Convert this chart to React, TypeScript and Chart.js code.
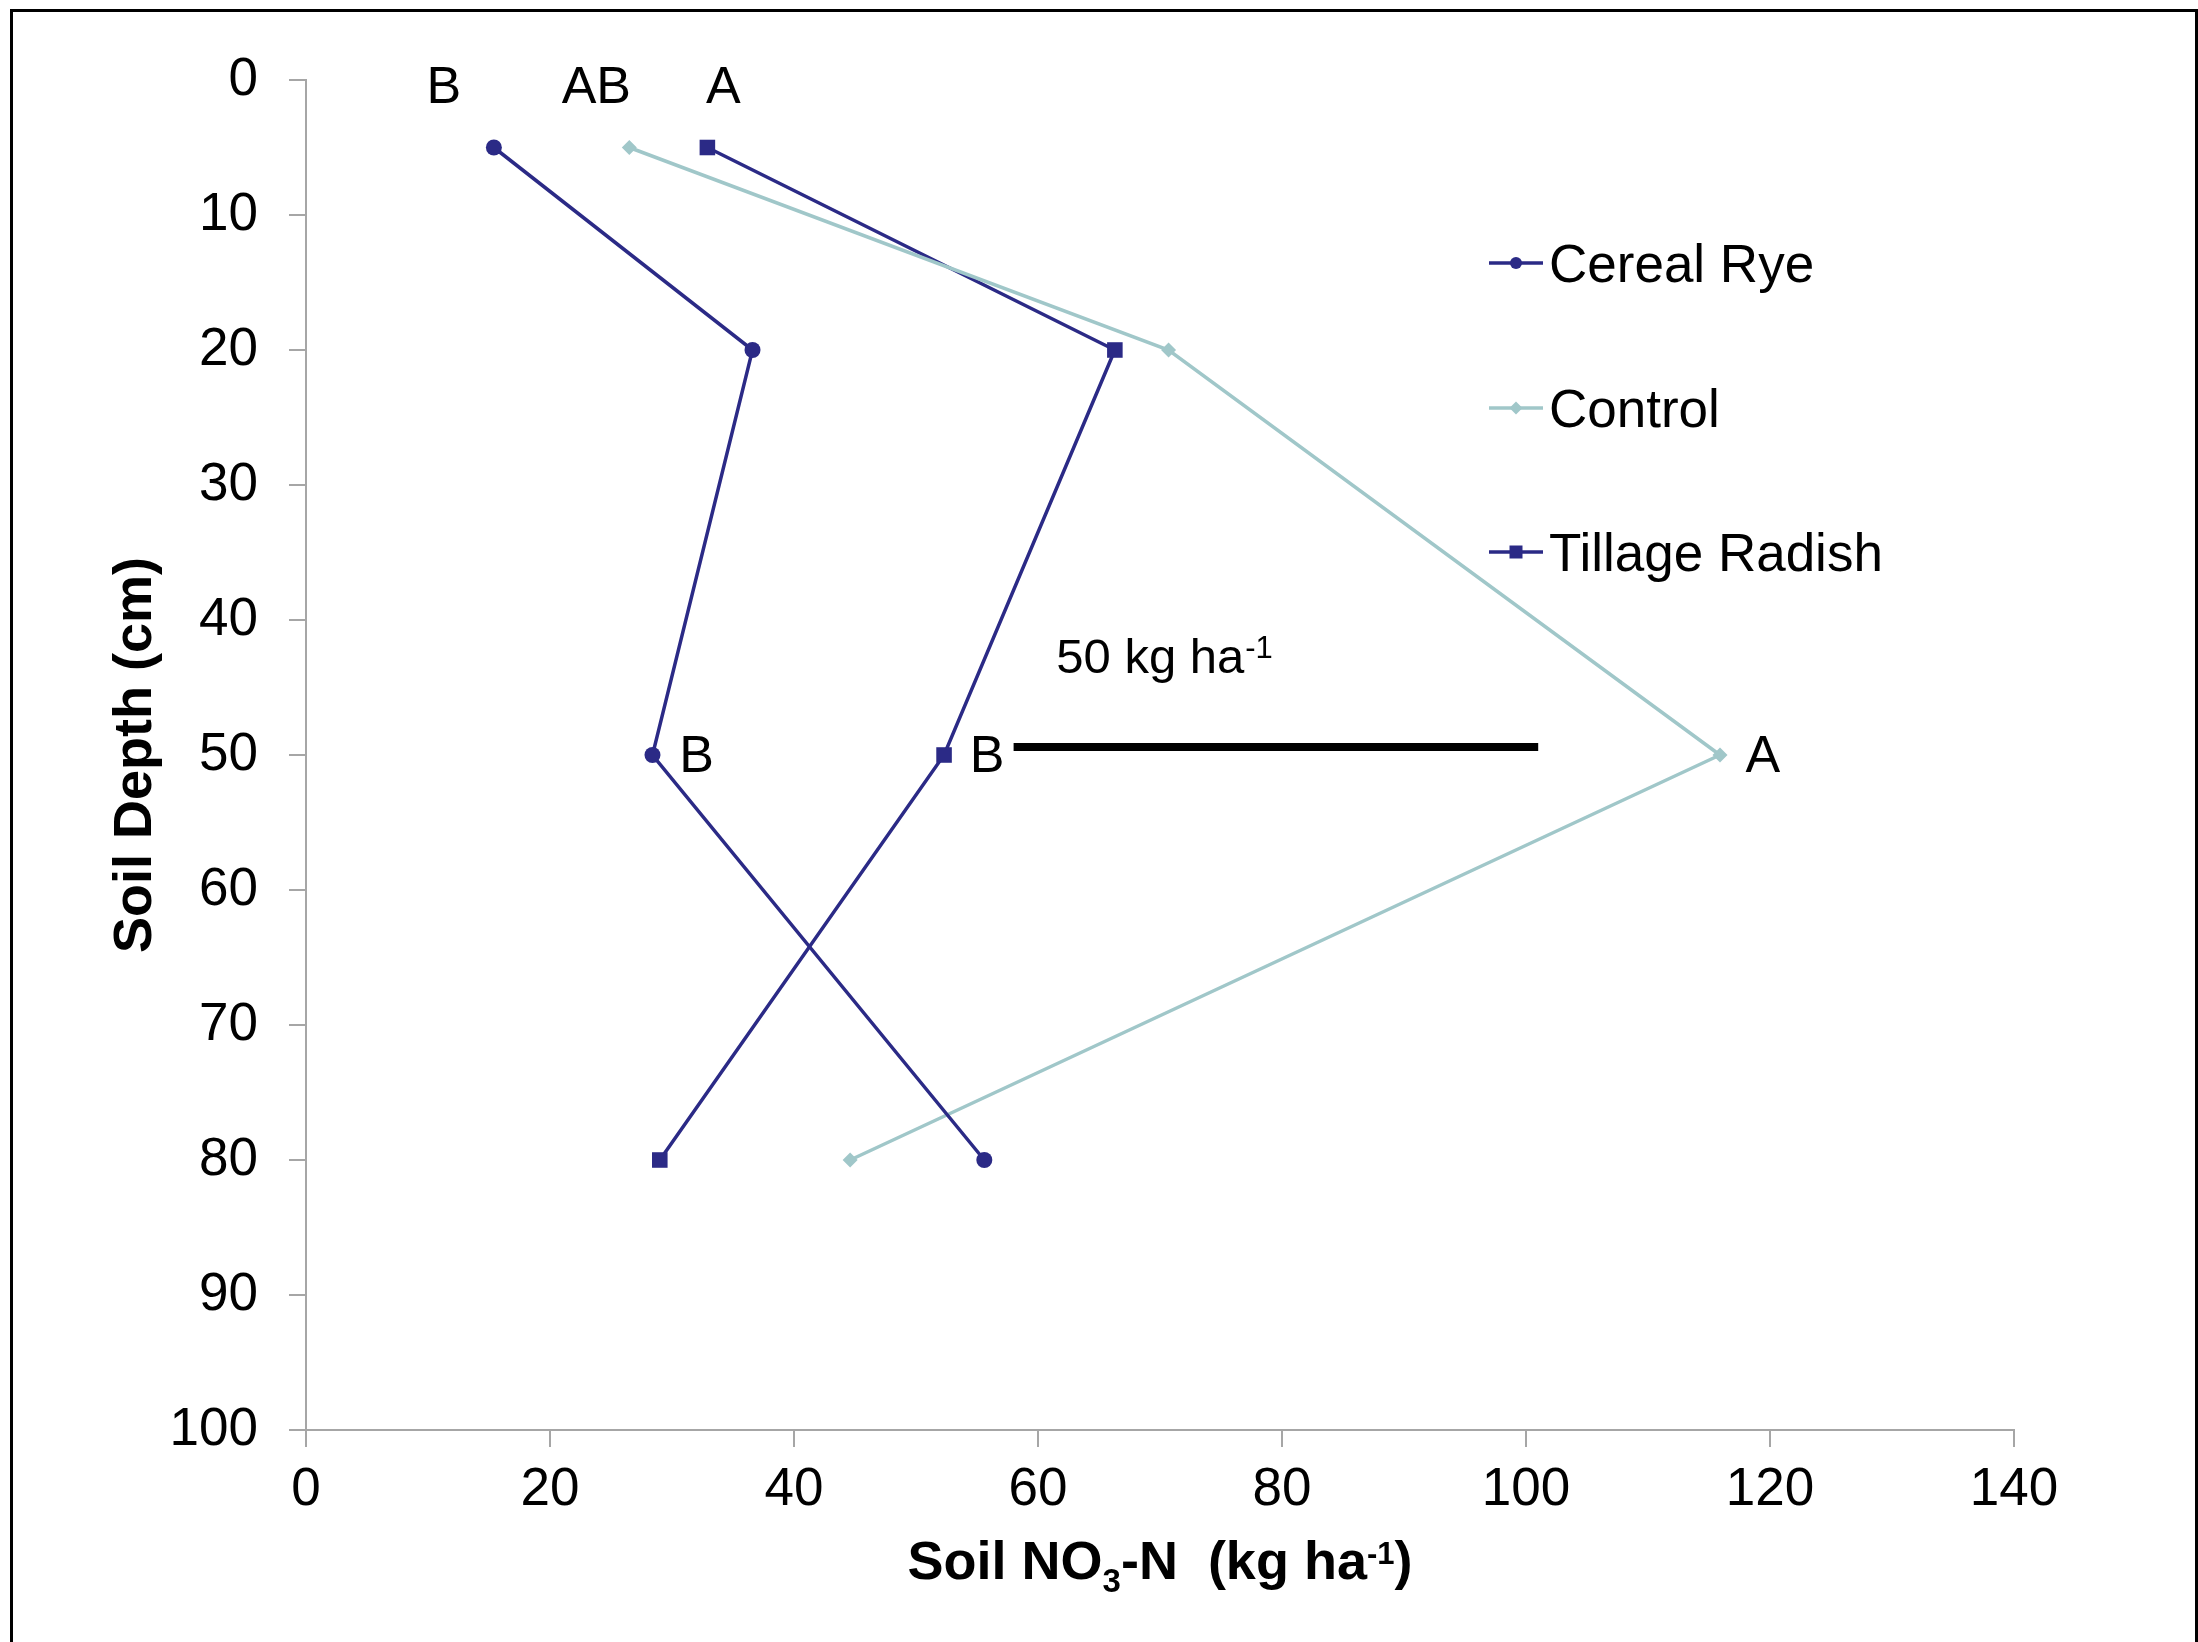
import React, { useEffect, useRef } from 'react';
import { Chart, registerables } from 'chart.js';

Chart.register(...registerables);

// ---------- data ----------
const depths = [5, 20, 50, 80];
const cerealRye = [15.4, 36.6, 28.4, 55.6];
const control = [26.5, 70.7, 115.9, 44.6];
const tillageRadish = [32.9, 66.3, 52.3, 29.0];
const seriesNames = ['Cereal Rye', 'Control', 'Tillage Radish'];

const xMin = 0;
const xMax = 140;
const xStep = 20;
const yMin = 0;
const yMax = 100;
const yStep = 10;

// scale bar (kg ha-1 reference)
const scaleBarX = [58.0, 101.0];
const scaleBarDepth = 49.4;
const scaleBarText = '50 kg ha';
const scaleBarSup = '-1';
const scaleBarTextX = 61.5;
const scaleBarTextY = 42.6;

// significance letters
const topLetters = ['B', 'AB', 'A'];
const topLetterX = [11.3, 23.8, 34.2];
const topLetterY = 0.3;
const midLetters = ['B', 'B', 'A'];
const midLetterX = [30.6, 54.4, 118.0];
const midLetterY = 49.9;

const xTitleParts = ['Soil NO', '3', '-N  (kg ha', '-1', ')'];
const yTitle = 'Soil Depth (cm)';

// ---------- styles ----------
const NAVY = '#2b2a86';
const TEAL = '#a0c7c9';
const AXIS = '#a6a6a6';
const FONT = '"Liberation Sans", Arial, sans-serif';

const toPoints = (xs: number[]) => xs.map((x, i) => ({ x, y: depths[i] }));

const overlayPlugin = {
  id: 'overlay',
  afterDraw(chart: any) {
    const ctx = chart.ctx as CanvasRenderingContext2D;
    const xs = chart.scales.x;
    const ys = chart.scales.y;
    const area = chart.chartArea;
    ctx.save();

    // outer border
    ctx.strokeStyle = '#000';
    ctx.lineWidth = 3;
    ctx.strokeRect(11.5, 10.5, 2185, 1700);

    // letters
    ctx.fillStyle = '#000';
    ctx.font = `52px ${FONT}`;
    ctx.textBaseline = 'alphabetic';
    const capOff = 0.358 * 52;
    ctx.textAlign = 'center';
    topLetters.forEach((t, i) => {
      ctx.fillText(t, xs.getPixelForValue(topLetterX[i]), ys.getPixelForValue(topLetterY) + capOff);
    });
    ctx.textAlign = 'left';
    midLetters.forEach((t, i) => {
      ctx.fillText(t, xs.getPixelForValue(midLetterX[i]), ys.getPixelForValue(midLetterY) + capOff);
    });

    // scale bar label
    ctx.font = `49px ${FONT}`;
    const sx = xs.getPixelForValue(scaleBarTextX);
    const sy = ys.getPixelForValue(scaleBarTextY) + 0.358 * 49;
    ctx.fillText(scaleBarText, sx, sy);
    const w1 = ctx.measureText(scaleBarText).width;
    ctx.font = `31px ${FONT}`;
    ctx.fillText(scaleBarSup, sx + w1 + 1, sy - 15);

    // legend
    const legendStyles = [
      { color: NAVY, shape: 'circle', r: 6 },
      { color: TEAL, shape: 'diamond', r: 6.5 },
      { color: NAVY, shape: 'square', r: 6.5 },
    ];
    const legendY = [area.top + 183, area.top + 328, area.top + 472];
    const lx0 = 1489;
    const lx1 = 1543;
    seriesNames.forEach((name, i) => {
      const st = legendStyles[i];
      const y = legendY[i];
      ctx.strokeStyle = st.color;
      ctx.fillStyle = st.color;
      ctx.lineWidth = 3.5;
      ctx.beginPath();
      ctx.moveTo(lx0, y);
      ctx.lineTo(lx1, y);
      ctx.stroke();
      const cx = (lx0 + lx1) / 2;
      ctx.beginPath();
      if (st.shape === 'circle') ctx.arc(cx, y, st.r, 0, Math.PI * 2);
      else if (st.shape === 'square') ctx.rect(cx - st.r, y - st.r, st.r * 2, st.r * 2);
      else {
        ctx.moveTo(cx - st.r, y);
        ctx.lineTo(cx, y - st.r);
        ctx.lineTo(cx + st.r, y);
        ctx.lineTo(cx, y + st.r);
        ctx.closePath();
      }
      ctx.fill();
      ctx.fillStyle = '#000';
      ctx.font = `53px ${FONT}`;
      ctx.textAlign = 'left';
      ctx.textBaseline = 'alphabetic';
      ctx.fillText(name, 1549, y + 0.358 * 53);
    });

    // x-axis title with sub/superscript
    const parts = [
      { t: xTitleParts[0], s: 54, dy: 0 },
      { t: xTitleParts[1], s: 33, dy: 13 },
      { t: xTitleParts[2], s: 54, dy: 0 },
      { t: xTitleParts[3], s: 31, dy: -15 },
      { t: xTitleParts[4], s: 54, dy: 0 },
    ];
    let total = 0;
    const widths = parts.map((p) => {
      ctx.font = `bold ${p.s}px ${FONT}`;
      const w = ctx.measureText(p.t).width;
      total += w;
      return w;
    });
    let x = (area.left + area.right) / 2 - total / 2;
    const base = area.bottom + 149;
    ctx.fillStyle = '#000';
    ctx.textAlign = 'left';
    parts.forEach((p, i) => {
      ctx.font = `bold ${p.s}px ${FONT}`;
      ctx.fillText(p.t, x, base + p.dy);
      x += widths[i];
    });

    ctx.restore();
  },
};

export default function App() {
  const ref = useRef<HTMLCanvasElement | null>(null);

  useEffect(() => {
    if (!ref.current) return;
    const chart = new Chart(ref.current, {
      type: 'scatter',
      data: {
        datasets: [
          {
            label: seriesNames[0],
            data: toPoints(cerealRye),
            showLine: true,
            borderColor: NAVY,
            backgroundColor: NAVY,
            borderWidth: 3.5,
            pointStyle: 'circle',
            pointRadius: 8,
            pointBorderWidth: 0,
          },
          {
            label: seriesNames[1],
            data: toPoints(control),
            showLine: true,
            borderColor: TEAL,
            backgroundColor: TEAL,
            borderWidth: 3.5,
            pointStyle: 'rectRot',
            pointRadius: 7.5,
            pointBorderWidth: 0,
          },
          {
            label: seriesNames[2],
            data: toPoints(tillageRadish),
            showLine: true,
            borderColor: NAVY,
            backgroundColor: NAVY,
            borderWidth: 3.5,
            pointStyle: 'rect',
            pointRadius: 11,
            pointBorderWidth: 0,
          },
          {
            label: 'scale',
            data: scaleBarX.map((x) => ({ x, y: scaleBarDepth })),
            showLine: true,
            borderColor: '#000',
            borderWidth: 8,
            pointRadius: 0,
            borderCapStyle: 'butt',
          },
        ],
      },
      options: {
        responsive: false,
        animation: false,
        devicePixelRatio: 1,
        layout: { padding: { left: 0, right: 184, top: 80, bottom: 0 } },
        plugins: {
          legend: { display: false },
          tooltip: { enabled: false },
        },
        scales: {
          x: {
            type: 'linear',
            position: 'bottom',
            min: xMin,
            max: xMax,
            afterFit: (s: any) => {
              s.height = 212;
            },
            ticks: {
              stepSize: xStep,
              color: '#000',
              font: { family: FONT, size: 53 },
              padding: 12,
              maxRotation: 0,
            },
            grid: {
              display: true,
              drawOnChartArea: false,
              drawTicks: true,
              tickLength: 17,
              color: AXIS,
              lineWidth: 2,
            },
            border: { display: true, color: AXIS, width: 2 },
          },
          y: {
            type: 'linear',
            reverse: true,
            min: yMin,
            max: yMax,
            afterFit: (s: any) => {
              s.width = 306;
            },
            ticks: {
              stepSize: yStep,
              color: '#000',
              font: { family: FONT, size: 53 },
              padding: 31,
            },
            grid: {
              display: true,
              drawOnChartArea: false,
              drawTicks: true,
              tickLength: 17,
              color: AXIS,
              lineWidth: 2,
            },
            border: { display: true, color: AXIS, width: 2 },
            title: {
              display: true,
              text: yTitle,
              color: '#000',
              font: { family: FONT, size: 54, weight: 'bold' },
              padding: { top: 103.6, bottom: 0 },
            },
          },
        },
      },
      plugins: [overlayPlugin],
    } as any);
    return () => chart.destroy();
  }, []);

  return (
    <div style={{ position: 'absolute', left: 0, top: 0, width: 2198, height: 1642, background: '#fff' }}>
      <canvas ref={ref} width={2198} height={1642} style={{ display: 'block' }} />
    </div>
  );
}
